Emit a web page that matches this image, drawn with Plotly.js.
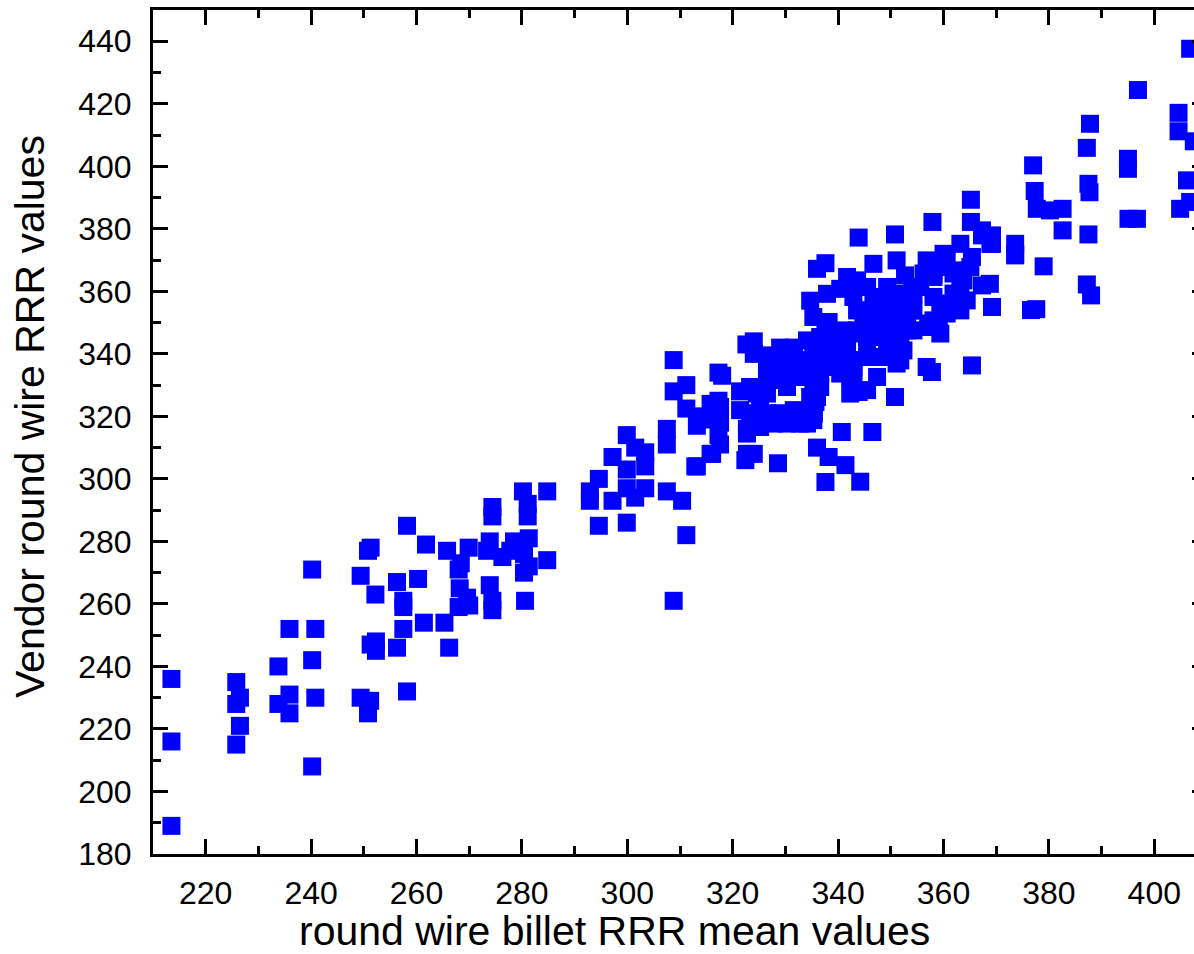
<!DOCTYPE html>
<html>
<head>
<meta charset="utf-8">
<script src="https://cdn.plot.ly/plotly-3.0.1.min.js"></script>
<style>
html,body{margin:0;padding:0;overflow:hidden;background:#fff;}
#chart{width:1212px;height:954px;}
</style>
</head>
<body>
<div id="chart"></div>
<script>
// round wire billet RRR mean values (x) vs Vendor round wire RRR values (y)
const billetRRR = [
213.5,213.5,213.5,225.8,226.5,225.8,226.5,225.8,233.8,235.9,233.8,235.9,235.9,240.8,240.2,240.8,240.2,240.2,
249.4,251.2,250.8,249.4,250.8,251.3,252.2,252.3,251.3,252.3,258.2,258.2,256.3,256.3,257.5,257.5,257.5,
260.3,261.8,261.4,265.3,266.2,265.8,269.9,268.4,268.0,268.2,269.6,268.0,270.0,
274.4,274.4,273.9,276.3,273.9,274.4,274.4,278.5,280.2,281.1,281.1,281.3,280.4,280.4,281.3,284.8,280.6,277.8,284.8,273.4,
294.6,292.9,292.9,294.6,297.2,297.2,299.9,299.9,299.9,301.5,301.5,303.4,303.4,303.4,307.5,307.5,310.4,311.2,308.8,313.2,315.8,299.9,
307.5,308.8,308.8,311.2,311.2,313.9,315.8,313.2,315.1,312.9,316.1,317.6,317.3,317.6,317.6,317.3,317.3,318.0,
322.6,324.0,321.4,321.4,322.7,322.7,322.4,324.0,328.6,329.0,331.6,327.8,330.3,332.8,
326.5,329.0,332.2,335.3,336.6,334.7,324.6,325.2,323.3,326.5,329.0,331.6,334.7,335.3,332.8,330.3,327.8,325.2,322.7,336.0,
337.9,335.3,334.1,336.6,338.2,335.3,334.7,337.9,336.0,337.6,324.0,327.1,330.9,332.8,329.0,335.3,337.9,336.0,338.2,337.6,
337.6,331.6,326.5,329.0,339.1,336.6,330.3,326.5,323.3,325.2,329.0,335.4,335.7,334.1,
340.4,341.7,343.6,342.9,344.8,346.7,349.3,346.7,351.1,352.7,356.8,358.1,360.6,362.5,365.4,368.8,369.2,373.6,363.2,362.5,
360.6,359.1,358.1,354.3,353.7,353.1,352.4,351.1,348.0,345.5,342.9,342.3,340.4,339.1,351.1,348.0,345.5,342.9,341.0,344.8,
348.0,351.1,351.1,349.3,357.1,359.4,356.8,357.8,365.4,342.3,345.5,350.8,340.7,346.5,341.4,344.2,340.4,342.9,
343.9,350.8,363.2,367.3,368.9,367.3,363.8,361.9,363.2,357.5,354.3,352.1,343.9,345.5,348.0,343.6,349.3,346.1,343.6,353.1,
354.3,349.3,345.5,341.7,339.1,342.3,346.1,349.3,351.8,342.9,339.8,342.3,347.4,358.1,358.1,355.6,359.4,361.9,365.1,
357.9,365.2,365.2,367.3,369.2,369.2,373.6,373.6,360.0,356.2,359.1,364.4,354.0,350.5,351.8,352.4,
377.0,377.3,377.7,380.2,382.6,382.6,387.5,387.2,387.8,387.5,387.7,395.0,395.0,395.1,396.7,396.9,404.6,404.6,406.8,406.2,404.9,406.8,407.5,
379.0,387.2,388.0,376.6,377.6
];
const vendorRRR = [
236,216,189,235,230,228,221,215,240,252,228,231,225,252,242,230,208,271,
230,229,225,269,277,278,263,248,247,245,232,285,267,246,261,259,252,
268,279,254,254,246,277,278,273,271,265,262,259,259.5,
291,288,280,275,266,261,258,280,296,292,288,281,276,270,272,274,261,277,296,277,
300,293,296,285,293,307,286,297,303,310,294,297,304,308.5,296,311,293,282,261,304,308,314,
316,338,328,330,322.5,320,324,317,319,304,308,311,314,318,323,325,334,333,
343,344,328,322,316,308,306,308,305,342,342,337,338,338,
330.5,331.6,332.6,331.6,329.4,326.2,327.3,323,321,321,321,322,322,318.8,317.7,317.7,317.7,316.6,314.5,326.2,
341,341,344.3,345.4,350.2,351.8,357,359.2,367.2,369,340,339.5,334.7,335.8,336.9,336.9,335.8,310,307,299,
347.5,339,335.8,333.7,339,333.7,329.4,327.3,329.4,318.8,319.8,320.9,324.6,317.7,
360.8,364.6,363.5,358.2,353.9,358.2,361.4,368.8,369.9,365.1,369.9,364.6,371,366.7,371,362.4,355,371.5,360.3,355,
352.9,348.6,350.7,359.2,353.9,347.5,341.1,336.9,339,339,335.8,337.9,341.1,337.9,344.3,345.4,345.4,346.5,347.5,349.7,
351.8,353.9,359.2,348.6,349.7,346.5,335.8,334.2,336.3,327.3,328.4,326.2,315,315,304.4,299.1,333.7,333.7,
377.2,378.2,375.2,377.9,375.2,361.9,363.5,359.3,353.9,348.6,353.9,348.6,327.8,361.4,357.1,353.9,351.8,347.5,347.5,350.7,
347.5,344.3,342.2,343.3,345.4,338,339,339,337.9,334.8,335.8,332.6,332.6,365.7,358.2,361.4,356.1,365.7,367.8,
382.2,389.3,382.2,379.5,377.9,375.2,375.2,372,372,365.7,367.8,357.1,360.3,352.9,343.3,357.1,
400.3,392.1,386.4,385.9,386.4,379.5,378.2,405.9,413.6,394.4,391.7,402.4,399.2,383.2,383.2,424.4,417.1,411.2,437.6,395.5,386.4,388.6,408,
368,362.2,358.7,354,354.3
];
const xTitle = "round wire billet RRR mean values";
const yTitle = "Vendor round wire RRR values";

const tickFont = {family: "Liberation Sans, Arial, sans-serif", size: 32, color: "#000"};
const titleFont = {family: "Liberation Sans, Arial, sans-serif", size: 41, color: "#000"};

const axisCommon = {
  showline: true, linewidth: 3, linecolor: "#000", mirror: "ticks",
  ticks: "inside", ticklen: 15, tickwidth: 3, tickcolor: "#000",
  showgrid: false, zeroline: false, tickfont: tickFont, dtick: 20, tick0: 0,
  minor: {ticks: "inside", ticklen: 8, tickwidth: 3, tickcolor: "#000", dtick: 10, tick0: 0, showgrid: false}
};

const trace = {
  x: billetRRR, y: vendorRRR, type: "scatter", mode: "markers",
  marker: {symbol: "square", size: 18, color: "#0000ff", line: {width: 0}},
  cliponaxis: true, hoverinfo: "skip"
};

const layout = {
  width: 1212, height: 954,
  margin: {l: 153, r: 5, t: 10, b: 100},
  paper_bgcolor: "#fff", plot_bgcolor: "#fff",
  showlegend: false,
  xaxis: Object.assign({}, axisCommon, {range: [210, 410], ticklabelstandoff: 9}),
  yaxis: Object.assign({}, axisCommon, {range: [180, 450], ticklabelstandoff: 12}),
  annotations: [
    {text: xTitle, xref: "paper", yref: "paper", x: 0.4383, y: -0.0915,
     xanchor: "center", yanchor: "middle", showarrow: false, font: titleFont},
    {text: yTitle, xref: "paper", yref: "paper", x: -0.1167, y: 0.519,
     xanchor: "center", yanchor: "middle", textangle: -90, showarrow: false, font: titleFont}
  ]
};

Plotly.newPlot("chart", [trace], layout, {staticPlot: true, displayModeBar: false});
</script>
</body>
</html>
